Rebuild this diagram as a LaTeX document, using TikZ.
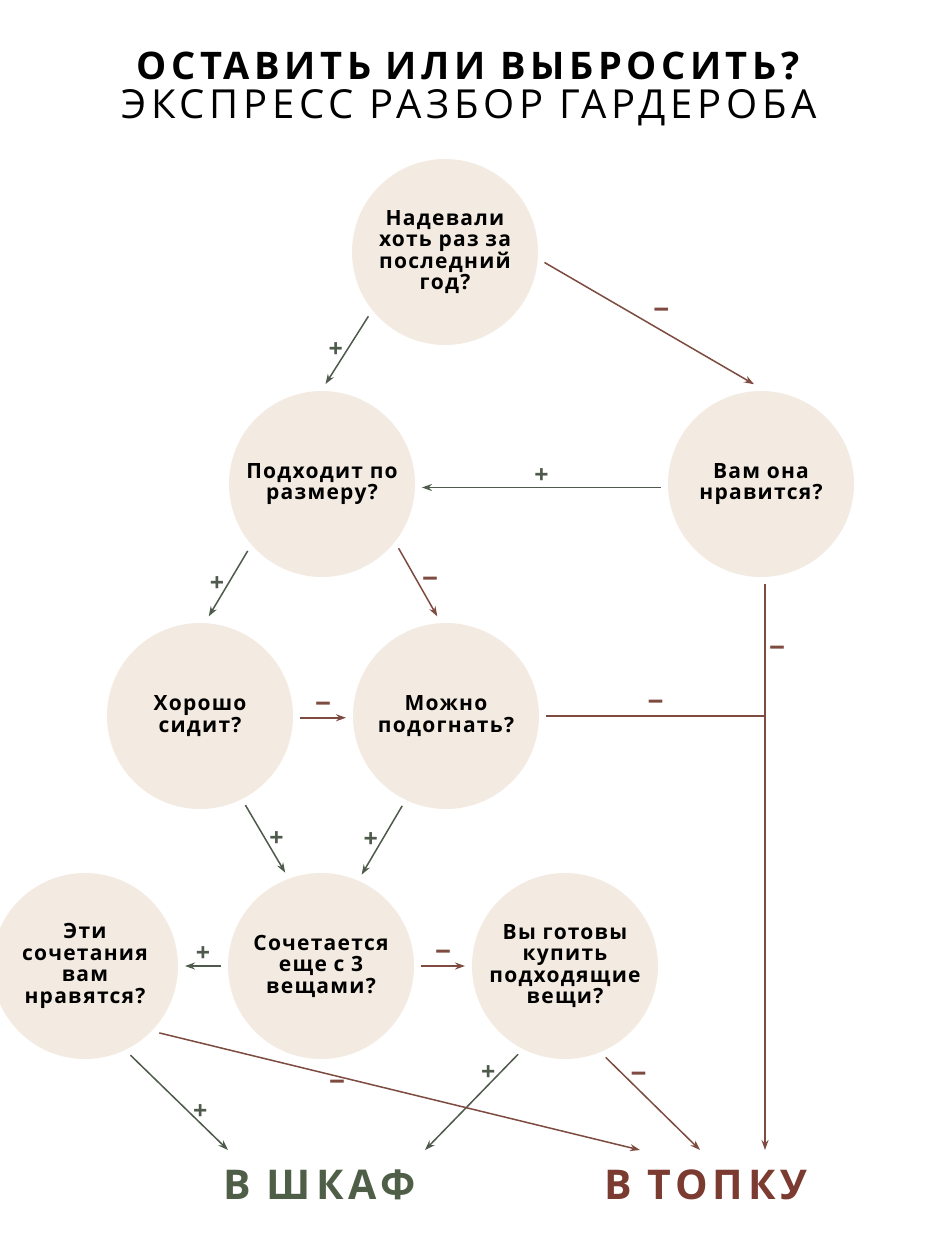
\documentclass[tikz,border=0pt]{standalone}
\usepackage{fontspec}
\setmainfont{Open Sans}
\newfontfamily\qfont[LetterSpace=6]{Open Sans}
\newfontfamily\headfont[LetterSpace=12]{Open Sans}
\usepackage{tikz}
\usetikzlibrary{positioning,arrows.meta}
\definecolor{beige}{HTML}{F3EBE1}
\definecolor{yescol}{HTML}{4E5A4B}
\definecolor{nocol}{HTML}{7D4B40}
\definecolor{keepcol}{HTML}{4F5F47}
\definecolor{tosscol}{HTML}{7B3B30}

\begin{document}
\begin{tikzpicture}[x=1pt, y=-1pt,
    q/.style={circle, fill=beige, minimum size=186pt, inner sep=0pt, outer sep=7pt,
        align=center, font=\qfont\bfseries\fontsize{21}{21.5}\selectfont},
    yes/.style={draw=yescol, line width=1.5pt, -{Stealth[length=10pt,width=7pt]}},
    no/.style={draw=nocol, line width=1.5pt, -{Stealth[length=10pt,width=7pt]}},
    plus/.style={text=yescol, font=\bfseries\fontsize{25}{25}\selectfont},
    minus/.style={text=nocol, font=\bfseries\fontsize{28}{28}\selectfont},
    finish/.style={inner sep=0pt, outer ysep=20pt, anchor=north,
        font=\headfont\bfseries\fontsize{41}{41}\selectfont}]
    \useasboundingbox[fill=white] (0,0) rectangle (941,1236);

    % Title
    \node (title) at (468,66) {\headfont\bfseries\fontsize{38}{38}\selectfont ОСТАВИТЬ ИЛИ ВЫБРОСИТЬ?};
    \node (subtitle) at (469,108) {\headfont\fontsize{40}{40}\selectfont ЭКСПРЕСС РАЗБОР ГАРДЕРОБА};

    % Questions
    \node [q] (wore) at (445,252) {Надевали\\хоть раз за\\последний\\год?};
    \node [q] (like) at (761,484) {Вам она\\нравится?};
    \node [q] (size) at (322,484) {Подходит по\\размеру?};
    \node [q] (fits) at (200,716) {Хорошо\\сидит?};
    \node [q] (alter) at (446,716) {Можно\\подогнать?};
    \node [q] (combo) at (321,966) {Сочетается\\еще с 3\\вещами?};
    \node [q] (likecombo) at (85,966) {Эти\\сочетания\\вам\\нравятся?};
    \node [q] (buy) at (565,966) {Вы готовы\\купить\\подходящие\\вещи?};

    % Answers
    \node [finish, text=keepcol] (closet) at (320,1150) {В ШКАФ};
    \node [finish, text=tosscol] (fire) at (706,1150) {В ТОПКУ};
    \coordinate (drop) at ([xshift=59pt]fire.north);

    % Yes
    \draw [yes] (wore.220) -- (size.88) node [plus, midway, left] {+};
    \draw [yes] (like.182) -- (size.358) node [plus, midway, above] {+};
    \draw [yes] (size.222) -- (fits.85) node [plus, midway, left] {+};
    \draw [yes] (fits.297) -- (combo.111) node [plus, midway, right] {+};
    \draw [yes] (alter.244) -- (combo.66) node [plus, midway, left] {+};
    \draw [yes] (combo.180) -- (likecombo.0) node [plus, midway, above] {+};
    \draw [yes] (likecombo.297) -- ([xshift=-92pt]closet.north) node [plus, pos=0.6, right] {+};
    \draw [yes] (buy.242) -- ([xshift=105pt]closet.north) node [plus, pos=0.2, left] {+};

    % No
    \draw [no] (wore.354) -- (like.94) node [minus, midway, above right] {−};
    \draw [no] (size.320) -- (alter.95) node [minus, midway, right] {−};
    \draw [no] (fits.359) -- (alter.181) node [minus, midway, above] {−};
    \draw [no] (combo.0) -- (buy.180) node [minus, midway, above] {−};
    \draw [no, -] (alter.east) -- (alter.east -| drop) node [minus, midway, above] {−};
    \draw [no] (like.south -| drop) -- (drop) node [minus, pos=0.12, right] {−};
    \draw [no] (likecombo.318) -- ([xshift=-66pt]fire.north) node [minus, pos=0.37, below] {−};
    \draw [no] (buy.294) -- ([xshift=-6pt]fire.north) node [minus, pos=0.22, right] {−};
\end{tikzpicture}
\end{document}
